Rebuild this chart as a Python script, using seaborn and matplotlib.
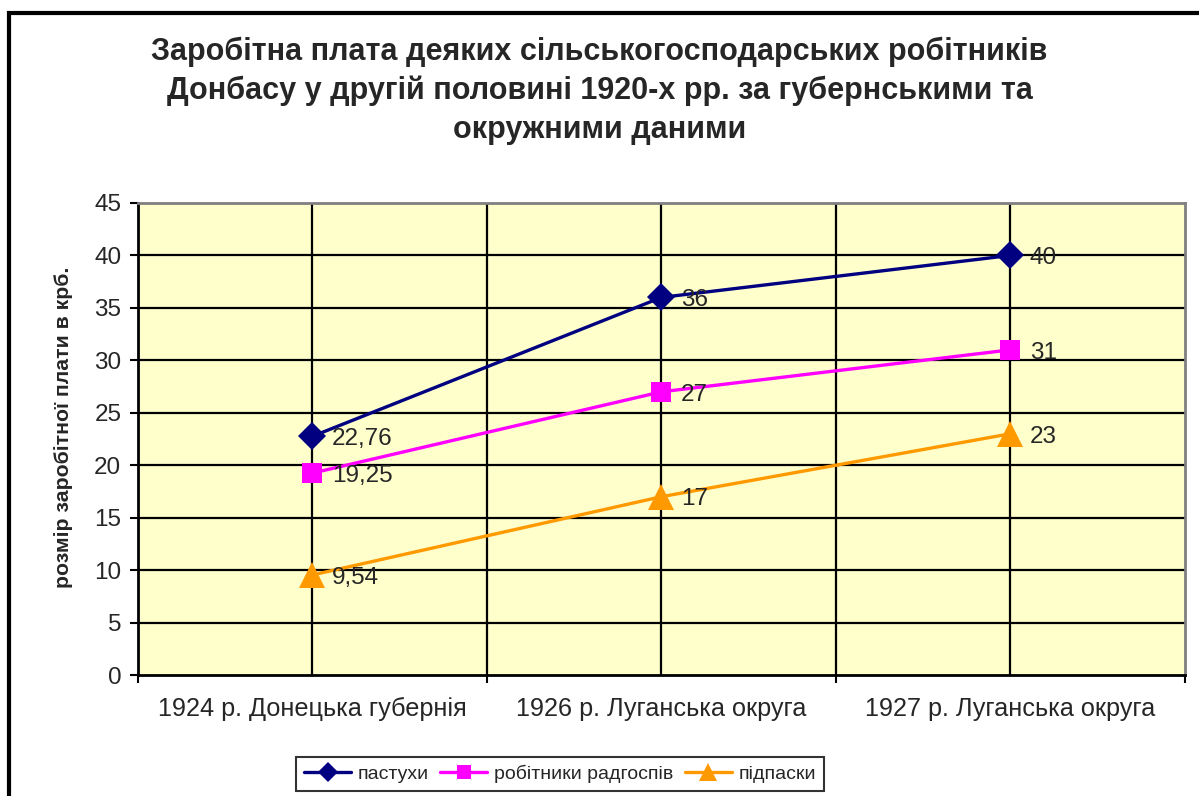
import pandas as pd
import matplotlib.pyplot as plt
import seaborn as sns
from matplotlib.patches import Rectangle

# chart data
categories = ["1924 р. Донецька губернія", "1926 р. Луганська округа", "1927 р. Луганська округа"]
series_names = ["пастухи", "робітники радгоспів", "підпаски"]
pastukhy = [22.76, 36, 40]
robitnyky = [19.25, 27, 31]
pidpasky = [9.54, 17, 23]
value_labels = {
    "пастухи": ["22,76", "36", "40"],
    "робітники радгоспів": ["19,25", "27", "31"],
    "підпаски": ["9,54", "17", "23"],
}
y_ticks = [0, 5, 10, 15, 20, 25, 30, 35, 40, 45]

title = ("Заробітна плата деяких сільськогосподарських робітників\n"
         "Донбасу у другій половині 1920-х рр. за губернськими та\n"
         "окружними даними")
y_label = "розмір заробітної плати в крб."

df = pd.DataFrame({
    "category": categories * 3,
    "series": [series_names[0]] * 3 + [series_names[1]] * 3 + [series_names[2]] * 3,
    "value": pastukhy + robitnyky + pidpasky,
})

colors = {"пастухи": "#000080", "робітники радгоспів": "#FF00FF", "підпаски": "#FF9900"}
markers = {"пастухи": "D", "робітники радгоспів": "s", "підпаски": "^"}
msizes = {"пастухи": 14, "робітники радгоспів": 15, "підпаски": 19}

sns.set_style("white")
plt.rcParams["font.family"] = ["Liberation Sans", "DejaVu Sans"]

fig = plt.figure(figsize=(11.99, 7.96), dpi=100)
ax = fig.add_axes([0.1151, 0.152, 0.8732, 0.593])
ax.set_facecolor("#FFFFCC")

for name in series_names:
    sub = df[df["series"] == name]
    sns.lineplot(data=sub, x="category", y="value", ax=ax, color=colors[name],
                 marker=markers[name], markersize=msizes[name], markeredgewidth=0,
                 linewidth=2.4, label=name, sort=False)
    for i, (cat, val) in enumerate(zip(sub["category"], sub["value"])):
        ax.annotate(value_labels[name][i], (i, val), xytext=(14, -2),
                    textcoords="offset points", ha="left", va="center", fontsize=17.5)

ax.set_xlim(-0.5, 2.5)
ax.set_ylim(0, 45)
ax.set_yticks(y_ticks)
ax.set_xticks([-0.5, 0.5, 1.5, 2.5], minor=False)
ax.set_xticklabels([])
ax.set_xticks([0, 1, 2], minor=True)
ax.set_xticklabels(categories, minor=True, fontsize=18.2)
ax.tick_params(axis="x", which="minor", length=0, pad=16)
ax.tick_params(axis="x", which="major", length=6, width=1.5, direction="out", color="black")
ax.tick_params(axis="y", length=6, width=1.5, direction="out", labelsize=17.5, pad=6, color="black")
ax.tick_params(axis="both", left=True, bottom=True)

# grid: horizontal at every tick, vertical at every half category
for y in y_ticks[1:-1]:
    ax.axhline(y, color="black", linewidth=1.6, zorder=0.5)
for x in [0, 0.5, 1, 1.5, 2]:
    ax.axvline(x, color="black", linewidth=1.6, zorder=0.5)

for side in ["top", "right"]:
    ax.spines[side].set_color("#808080")
    ax.spines[side].set_linewidth(2)
for side in ["left", "bottom"]:
    ax.spines[side].set_color("black")
    ax.spines[side].set_linewidth(2)

ax.set_xlabel("")
ax.set_ylabel(y_label, fontsize=15.3, fontweight="bold", va="center")
ax.yaxis.set_label_coords(-0.0707, 0.525)

fig.text(0.5, 0.954, title, ha="center", va="top", fontsize=22, fontweight="bold",
         linespacing=1.38)

ax.get_legend().remove()
handles, labels = ax.get_legend_handles_labels()
leg = fig.legend(handles, labels, loc="center", bbox_to_anchor=(560 / 1199, 1 - 774 / 796),
                 ncol=3, frameon=True, fancybox=False, edgecolor="black", fontsize=14,
                 handlelength=2.4, columnspacing=0.6, handletextpad=0.35,
                 borderpad=0.4, markerscale=0.7)
leg.get_frame().set_linewidth(1.5)

# outer chart frame
fig.patches.append(Rectangle((9 / 1199, -0.1), 1.2, 1 - 13 / 796 + 0.1,
                             transform=fig.transFigure, fill=False,
                             edgecolor="black", linewidth=3))

fig.savefig("out.png", dpi=100)
